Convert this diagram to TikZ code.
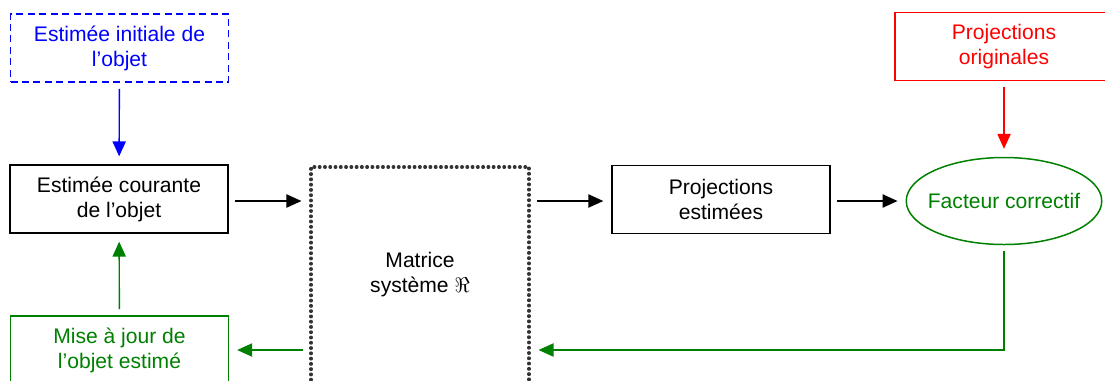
\documentclass[tikz,border=0pt]{standalone}
\usepackage{fontspec}
\setmainfont{Liberation Sans}
\usepackage{xcolor}
\usepackage{tikz}
\usetikzlibrary{arrows.meta, positioning, shapes.geometric}
\definecolor{bleu}{RGB}{0,0,255}
\definecolor{rouge}{RGB}{255,0,0}
\definecolor{vert}{RGB}{0,128,0}

\begin{document}
\begin{tikzpicture}[
    x=0.02cm, y=-0.02cm,
    box/.style={rectangle, draw, line width=0.85pt, minimum width=218*0.02cm,
                minimum height=68*0.02cm, align=center, inner sep=0pt,
                font=\fontsize{12}{14.2}\selectfont},
    arr/.style={-{Triangle[length=8.5pt,width=7.5pt]}, line width=0.8pt,
                shorten <=3.5pt, shorten >=4.5pt}
]
\clip (0,0) rectangle (1105,380);

\node[box, draw=bleu, text=bleu, dashed, dash pattern=on 4pt off 2.5pt]
    (init) at (119.5,48) {Estimée initiale de\\l’objet};
\node[box] (cur) at (119,199) {Estimée courante\\de l’objet};
\node[box, draw=vert, text=vert] (upd) at (119.5,350) {Mise à jour de\\l’objet estimé};
\node[box, draw=black!80, text=black, line width=1.9pt, line cap=round,
      dash pattern=on 0.3pt off 2.7pt, minimum height=216*0.02cm]
    (mat) at (420,275) {Matrice\\système $\Re$};
\node[box] (proj) at (721,199.5) {Projections\\estimées};
\node[box, draw=rouge, text=rouge] (orig) at (1004,46.5) {Projections\\originales};
\node[box, ellipse, draw=vert, text=vert, inner xsep=-4pt, minimum width=195*0.02cm,
      minimum height=87*0.02cm] (fact) at (1004,201) {Facteur correctif};

\draw[arr, bleu]  (init) -- (cur);
\draw[arr, rouge] (orig) -- (fact);
\draw[arr] (cur.east |- 0,201) -- (mat.west |- 0,201);
\draw[arr] (mat.east |- 0,201) -- (proj.west |- 0,201);
\draw[arr] (proj.east |- 0,201) -- (fact.west);
\draw[arr, vert] (fact.south) |- (mat.east |- upd);
\draw[arr, vert] (mat.west |- upd) -- (upd.east);
\draw[arr, vert] (upd) -- (cur);
\end{tikzpicture}
\end{document}
